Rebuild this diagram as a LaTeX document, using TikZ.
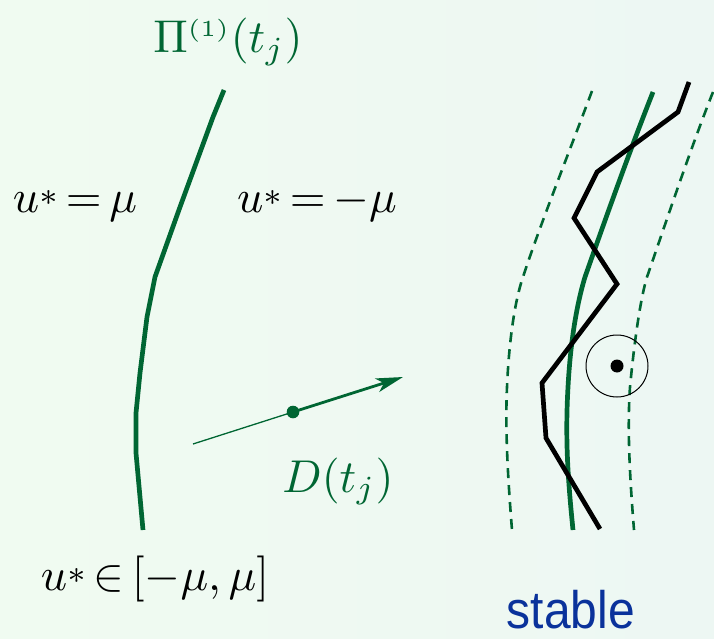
\documentclass[tikz,border=0pt]{standalone}
\usepackage{graphicx}
\usepackage{fontspec}
\newfontfamily\stablefont{Liberation Sans}
\usetikzlibrary{arrows.meta}
\definecolor{dgreen}{RGB}{0,102,51}
\definecolor{dblue}{RGB}{10,50,155}
\definecolor{bgl}{RGB}{240,251,241}
\definecolor{bgr}{RGB}{237,247,243}
\newcommand{\mymath}[1]{\scalebox{4.6}{$#1$}}
\newcommand{\ustar}{u\mbox{\raisebox{1.5pt}{$\scriptstyle*$}}}
\tikzset{
  lbl/.style={anchor=base,inner sep=0pt},
  thickgreen/.style={dgreen,line width=4.7pt,line join=round},
  dashgreen/.style={dgreen,line width=2.6pt,dash pattern=on 10pt off 7pt},
  zig/.style={black,line width=4.7pt,line join=miter}
}
\begin{document}
\begin{tikzpicture}[x=1pt,y=-1pt]
\shade[left color=bgl,right color=bgr] (0,0) rectangle (714,639);
\useasboundingbox (0,0) rectangle (714,639);
% left curve
\draw[thickgreen] (224,90) -- (213,117) -- (180,207) -- (155,277) -- (147,317)
  -- (140,373) -- (136,413) -- (136,453) -- (143,530);
\node[lbl,text=dgreen] (pi) at (228,53) {\mymath{\Pi^{\scriptscriptstyle(1)}(t_j)}};
\node[lbl] (l1) at (75,212) {\mymath{\ustar\,{=}\,\mu}};
\node[lbl] (l2) at (317,212) {\mymath{\ustar\,{=}\,{-}\mu}};
\node[lbl] (l3) at (155,590) {\mymath{\ustar\,{\in}\,[-\mu,\mu]}};
\node[lbl,text=dgreen] (D) at (338,492) {\mymath{D(t_j)}};
% arrow
\coordinate (a0) at (193,444);
\coordinate (a1) at (293,412);
\coordinate (a2) at (403,377);
\draw[dgreen,line width=1.3pt] (a0) -- (a1);
\draw[dgreen,line width=2.8pt,-{Stealth[length=27pt,width=14pt,inset=7pt]}] (a1) -- (a2);
\fill[dgreen] (a1) circle (6.3pt);
% right: band
\draw[dashgreen] (592,91) .. controls (570,150) and (540,225) .. (523,277)
  .. controls (515,300) and (509,340) .. (507,387)
  .. controls (505,430) and (508,480) .. (512,530);
\draw[dashgreen] (713,92) .. controls (690,150) and (665,225) .. (647,277)
  .. controls (640,300) and (634,345) .. (630,387)
  .. controls (627,430) and (630,480) .. (634,530);
\draw[thickgreen] (653,92) .. controls (630,150) and (605,220) .. (585,277)
  .. controls (575,310) and (570,350) .. (568,387)
  .. controls (565,440) and (568,480) .. (573,530);
\draw[zig] (689,82) -- (678,112) -- (597,172) -- (574,218) -- (617,284) -- (542,383) -- (546,438) -- (600,529);
\coordinate (c) at (617,366);
\draw[black,line width=1pt] (c) circle (31pt);
\fill[black] (c) circle (6.5pt);
\node[anchor=base,inner sep=0pt,font=\stablefont\fontsize{48}{56}\selectfont,text=dblue] (st) at (571,628) {\scalebox{1}[1.1]{stable}};
\end{tikzpicture}
\end{document}
